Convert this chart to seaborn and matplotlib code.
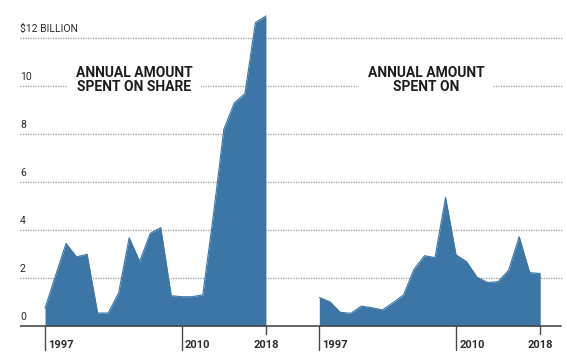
import matplotlib
matplotlib.use("Agg")
import matplotlib.pyplot as plt
import seaborn as sns
import numpy as np
import pandas as pd

# ---- data ----
years = list(range(1997, 2019))
share_values = [0.74, 2.1, 3.44, 2.88, 2.99, 0.54, 0.54, 1.38, 3.68, 2.69, 3.86, 4.1,
                1.26, 1.22, 1.22, 1.3, 4.6, 8.2, 9.3, 9.68, 12.64, 12.92]
other_values = [1.19, 1.01, 0.57, 0.53, 0.83, 0.76, 0.67, 0.97, 1.29, 2.36, 2.93, 2.85,
                5.36, 2.96, 2.68, 2.03, 1.81, 1.85, 2.33, 3.72, 2.22, 2.19]
y_ticks = [0, 2, 4, 6, 8, 10, 12]
y_tick_labels = ["0", "2", "4", "6", "8", "10", "$12 BILLION"]
x_ticks = [1997, 2010, 2018]
titles = ["ANNUAL AMOUNT\nSPENT ON SHARE", "ANNUAL AMOUNT\nSPENT ON"]

df = pd.DataFrame({"year": years, "share": share_values, "other": other_values})

sns.set_theme(style="white")
plt.rcParams["font.family"] = ["Roboto", "DejaVu Sans"]

FILL = "#3b76a6"
GRID = "#9c9c9c"
AXIS = "#4a4a4a"
TXT = "#2b2b2b"

W, H = 567, 356
fig = plt.figure(figsize=(W / 100, H / 100), dpi=100)
fig.patch.set_facecolor("white")

ppy = 10.52          # pixels per year
base_px = 326        # baseline pixel from top
ppu = 24.0           # pixels per unit value
ymin = (base_px - H) / ppu
ymax = base_px / ppu

panels = [
    dict(px0=20, px1=293, x1997=45.0, col="share", title=titles[0], tx=134, gx1=293, bx1=293),
    dict(px0=293, px1=567, x1997=319.3, col="other", title=titles[1], tx=426, gx1=563, bx1=561),
]

for i, p in enumerate(panels):
    ax = fig.add_axes([p["px0"] / W, 0, (p["px1"] - p["px0"]) / W, 1])
    x0 = 1997 + (p["px0"] - p["x1997"]) / ppy
    x1 = 1997 + (p["px1"] - p["x1997"]) / ppy
    ax.set_xlim(x0, x1)
    ax.set_ylim(ymin, ymax)
    ax.axis("off")

    gx = (p["gx1"] - p["px0"]) / (p["px1"] - p["px0"])
    bx = (p["bx1"] - p["px0"]) / (p["px1"] - p["px0"])
    for v in y_ticks[1:]:
        ax.axhline(v, xmin=0, xmax=gx, color=GRID, lw=0.9, ls=(0, (1, 1)), zorder=1)

    ax.fill_between(df["year"], 0, df[p["col"]], color=FILL, lw=0, zorder=3)
    sns.lineplot(data=df, x="year", y=p["col"], ax=ax, color=FILL, lw=0.8, zorder=3)
    ax.axis("off")

    ax.axhline(0, xmin=0, xmax=bx, color=AXIS, lw=1.2, zorder=4)

    # x ticks
    for t in x_ticks:
        if t == 2018:
            ax.plot([t, t], [0, -8 / ppu], color=AXIS, lw=1.0, clip_on=False, zorder=4)
            ax.text(t, -19 / ppu, str(t), ha="center", va="center", fontsize=8,
                    fontweight="semibold", color=TXT)
        else:
            ax.plot([t, t], [0, -24 / ppu], color=AXIS, lw=1.0, clip_on=False, zorder=4)
            ax.annotate(str(t), xy=(t, -19 / ppu), xytext=(2.2, 0), textcoords="offset points",
                        ha="left", va="center", fontsize=8, fontweight="semibold", color=TXT)

    # y labels (left panel only)
    if i == 0:
        for v, lab in zip(y_ticks, y_tick_labels):
            ax.annotate(lab, xy=(0, v), xycoords=("axes fraction", "data"),
                        xytext=(0, 6.8), textcoords="offset points",
                        ha="left", va="center", fontsize=7.5, color=TXT)

    # title
    tyear = 1997 + (p["tx"] - p["x1997"]) / ppy
    ax.text(tyear, (base_px - 80) / ppu, p["title"], ha="center", va="center",
            fontsize=10, fontweight="bold", color="#1e1e1e", linespacing=0.95,
            bbox=dict(facecolor="white", edgecolor="none", pad=6.5), zorder=5)

fig.savefig("out.png", dpi=100, facecolor="white")
